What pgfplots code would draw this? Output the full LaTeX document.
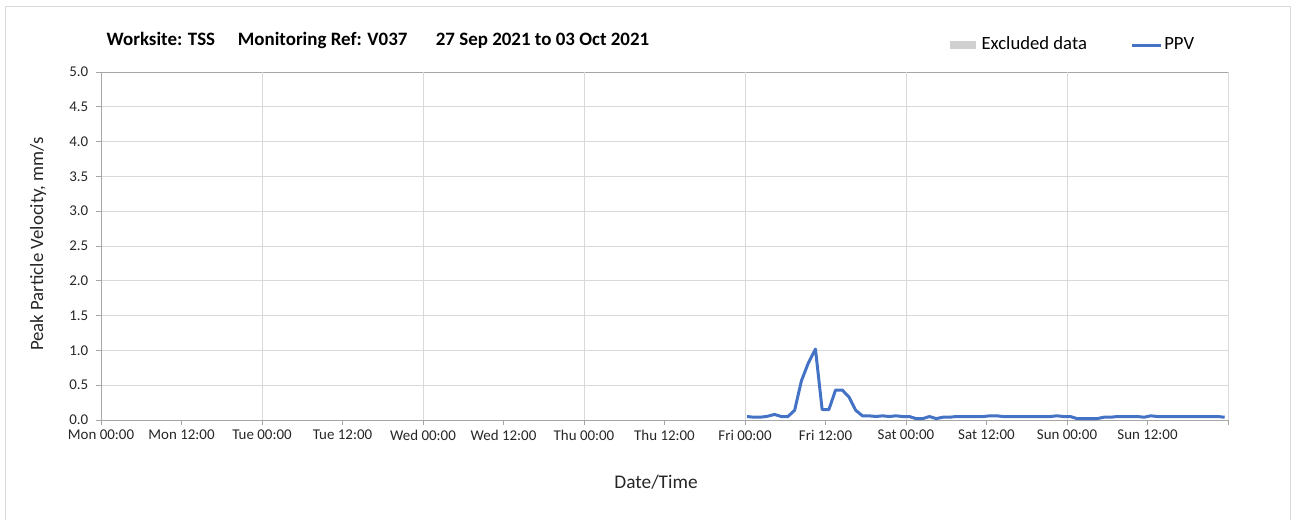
\documentclass[border=0pt]{standalone}
\usepackage{pgfplots}
\pgfplotsset{compat=1.18}
\usepackage{fontspec}
\setmainfont{Carlito}
\definecolor{ppv}{HTML}{4472C4}
\definecolor{gridc}{HTML}{D9D9D9}
\definecolor{axc}{HTML}{A6A6A6}
\definecolor{excl}{HTML}{D0D0D0}
\begin{document}
\begin{tikzpicture}[x=0.75pt,y=0.75pt]
\useasboundingbox (0,0) rectangle (1295,519);
\draw[gridc, line width=0.75pt] (5,-5) -- (5,512) -- (1290,512) -- (1290,-5);
\begin{axis}[
  at={(75.75pt,74.25pt)}, anchor=south west,
  scale only axis, width=845.25pt, height=261pt,
  xmin=0, xmax=168, ymin=0, ymax=5,
  axis line style={axc, line width=0.75pt},
  tick style={axc, line width=0.75pt},
  tick align=outside, tick pos=left,
  major tick length=4pt,
  xtick={0,12,...,156},
  xticklabels={Mon 00:00,Mon 12:00,Tue 00:00,Tue 12:00,Wed 00:00,Wed 12:00,Thu 00:00,Thu 12:00,Fri 00:00,Fri 12:00,Sat 00:00,Sat 12:00,Sun 00:00,Sun 12:00},
  extra x ticks={24,48,...,168},
  extra x tick labels={},
  extra x tick style={grid=major, major grid style={gridc, line width=0.75pt}},
  ytick={0,0.5,...,5},
  ymajorgrids, major grid style={gridc, line width=0.75pt},
  yticklabel style={xshift=-2pt, /pgf/number format/.cd, fixed, fixed zerofill, precision=1, assume math mode=true},
  /pgf/number format/assume math mode=true,
  ticklabel style={font=\fontsize{11.2}{12}\selectfont, text=black!85},
  legend style={at={(0.7534,1.0805)}, anchor=west, draw=none, fill=none,
    legend columns=2, font=\fontsize{14}{16}\selectfont,
    nodes={inner sep=1.5pt, anchor=base west},
    /tikz/every even column/.append style={column sep=31pt}, inner sep=0pt},
  legend cell align=left,
]
\addlegendimage{legend image code/.code={\fill[excl] (0pt,0.6pt) rectangle (18.75pt,6pt); \path (21.5pt,0pt);}}
\addlegendentry{Excluded data}
\addplot[ppv, line width=2.25pt, line join=round, legend image code/.code={\draw[ppv, line width=2.25pt] (0pt,3.3pt) -- (21.75pt,3.3pt);}] coordinates {
(96.3,0.05) (97.3,0.04) (98.2,0.04) (99.2,0.05) (100.4,0.08) (101.4,0.05) (102.4,0.05) (103.4,0.14)
(104.4,0.56) (105.4,0.81) (106.5,1.02) (107.5,0.15) (108.5,0.15) (109.5,0.43) (110.5,0.43) (111.5,0.33)
(112.5,0.14) (113.5,0.06) (114.5,0.06) (115.5,0.05) (116.5,0.06) (117.5,0.05) (118.5,0.06) (119.5,0.05)
(120.5,0.05) (121.5,0.02) (122.5,0.02) (123.5,0.05) (124.5,0.02) (125.5,0.04) (126.5,0.04) (127.5,0.05)
(128.5,0.05) (129.5,0.05) (130.5,0.05) (131.5,0.05) (132.5,0.06) (133.5,0.06) (134.5,0.05) (135.5,0.05)
(136.5,0.05) (137.5,0.05) (138.5,0.05) (139.5,0.05) (140.5,0.05) (141.5,0.05) (142.5,0.06) (143.5,0.05)
(144.5,0.05) (145.5,0.02) (146.5,0.02) (147.5,0.02) (148.5,0.02) (149.5,0.04) (150.5,0.04) (151.5,0.05)
(152.5,0.05) (153.5,0.05) (154.5,0.05) (155.5,0.04) (156.5,0.06) (157.5,0.05) (158.5,0.05) (159.5,0.05)
(160.5,0.05) (161.5,0.05) (162.5,0.05) (163.5,0.05) (164.5,0.05) (165.5,0.05) (166.5,0.05) (167.5,0.04)
};
\addlegendentry{PPV}
\end{axis}
\node[anchor=base west, font=\fontsize{14.2}{16}\selectfont\bfseries] at (102,473) {Worksite: TSS\hspace{1.2em}Monitoring Ref: V037\hspace{1.5em}27 Sep 2021 to 03 Oct 2021};
\node[rotate=90, font=\fontsize{14.1}{16}\selectfont, text=black!85] at (38,275) {Peak Particle Velocity, mm/s};
\node[font=\fontsize{14.5}{16}\selectfont, text=black!85] at (656,37) {Date/Time};
\end{tikzpicture}
\end{document}
